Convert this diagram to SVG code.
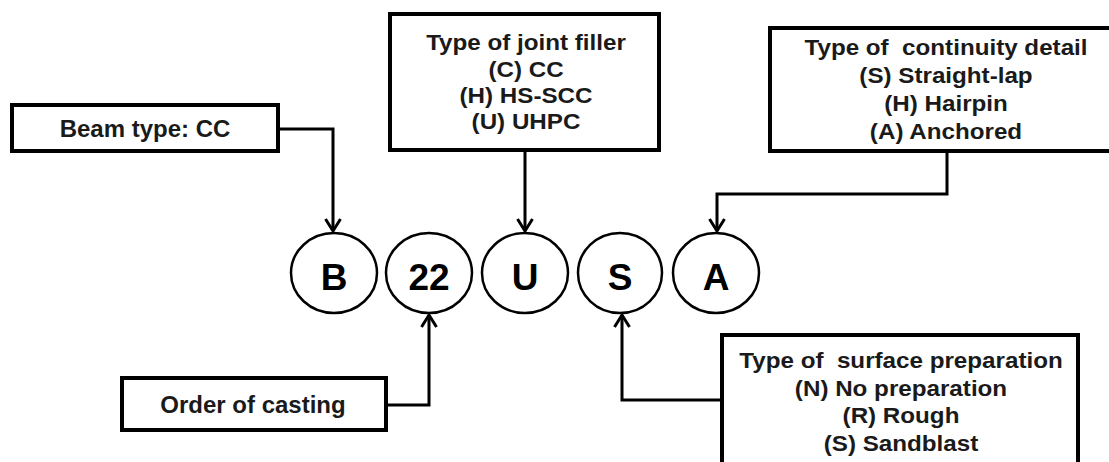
<svg xmlns="http://www.w3.org/2000/svg" width="1109" height="462" viewBox="0 0 1109 462">
  <defs>
    <style>
      .box { fill: #ffffff; stroke: #000000; stroke-width: 4; }
      .node { fill: #ffffff; stroke: #000000; stroke-width: 2.5; }
      .conn { fill: none; stroke: #000000; stroke-width: 3; }
      .t { font-family: "Liberation Sans", Arial, sans-serif; font-weight: bold; fill: #1a1a1a; text-anchor: middle; }
      .lbl { font-size: 22px; }
      .lbl1 { font-size: 24px; }
      .big { font-size: 37px; fill: #000000; }
    </style>
    <marker id="arrow" markerUnits="userSpaceOnUse" markerWidth="16" markerHeight="18" viewBox="0 0 16 18" refX="13" refY="9" orient="auto">
      <path d="M1,1.5 L13,9 L1,16.5" fill="none" stroke="#000000" stroke-width="3"/>
    </marker>
  </defs>
  <rect width="1109" height="462" fill="#ffffff"/>

  <g id="connectors">
    <polyline class="conn" points="280,129 333,129 333,231" marker-end="url(#arrow)"/>
    <polyline class="conn" points="525,152 525,231" marker-end="url(#arrow)"/>
    <polyline class="conn" points="947,153 947,194 717,194 717,231" marker-end="url(#arrow)"/>
    <polyline class="conn" points="388,405 429,405 429,315" marker-end="url(#arrow)"/>
    <polyline class="conn" points="720,400 622,400 622,315" marker-end="url(#arrow)"/>
  </g>

  <g id="beam-type">
    <rect class="box" x="12" y="105" width="266" height="46"/>
    <text class="t lbl1" x="145" y="137">Beam type: CC</text>
  </g>

  <g id="joint-filler">
    <rect class="box" x="390" y="14" width="269" height="136"/>
    <g transform="translate(526 0) scale(1.1 1)">
      <text class="t lbl" x="0" y="50">Type of joint filler</text>
      <text class="t lbl" x="0" y="77">(C) CC</text>
      <text class="t lbl" x="0" y="103">(H) HS-SCC</text>
      <text class="t lbl" x="0" y="129">(U) UHPC</text>
    </g>
  </g>

  <g id="continuity-detail">
    <rect class="box" x="770" y="28" width="360" height="123"/>
    <g transform="translate(946 0) scale(1.1 1)">
      <text class="t lbl" x="0" y="55" xml:space="preserve">Type of  continuity detail</text>
      <text class="t lbl" x="0" y="83">(S) Straight-lap</text>
      <text class="t lbl" x="0" y="111">(H) Hairpin</text>
      <text class="t lbl" x="0" y="139">(A) Anchored</text>
    </g>
  </g>

  <g id="order-of-casting">
    <rect class="box" x="122" y="378" width="264" height="52"/>
    <text class="t lbl1" x="253" y="413">Order of casting</text>
  </g>

  <g id="surface-preparation">
    <rect class="box" x="722" y="335" width="356" height="140"/>
    <g transform="translate(901 0) scale(1.1 1)">
      <text class="t lbl" x="0" y="368" xml:space="preserve">Type of  surface preparation</text>
      <text class="t lbl" x="0" y="396">(N) No preparation</text>
      <text class="t lbl" x="0" y="423">(R) Rough</text>
      <text class="t lbl" x="0" y="451">(S) Sandblast</text>
    </g>
  </g>

  <g id="node-B">
    <ellipse class="node" cx="334" cy="273" rx="43" ry="40"/>
    <text class="t big" x="334" y="290">B</text>
  </g>
  <g id="node-22">
    <ellipse class="node" cx="429" cy="273" rx="43" ry="40"/>
    <text class="t big" x="429" y="290">22</text>
  </g>
  <g id="node-U">
    <ellipse class="node" cx="525" cy="273" rx="43" ry="40"/>
    <text class="t big" x="525" y="290">U</text>
  </g>
  <g id="node-S">
    <ellipse class="node" cx="620" cy="273" rx="42" ry="40"/>
    <text class="t big" x="620" y="290">S</text>
  </g>
  <g id="node-A">
    <ellipse class="node" cx="716" cy="273" rx="43" ry="40"/>
    <text class="t big" x="716" y="290">A</text>
  </g>
</svg>
